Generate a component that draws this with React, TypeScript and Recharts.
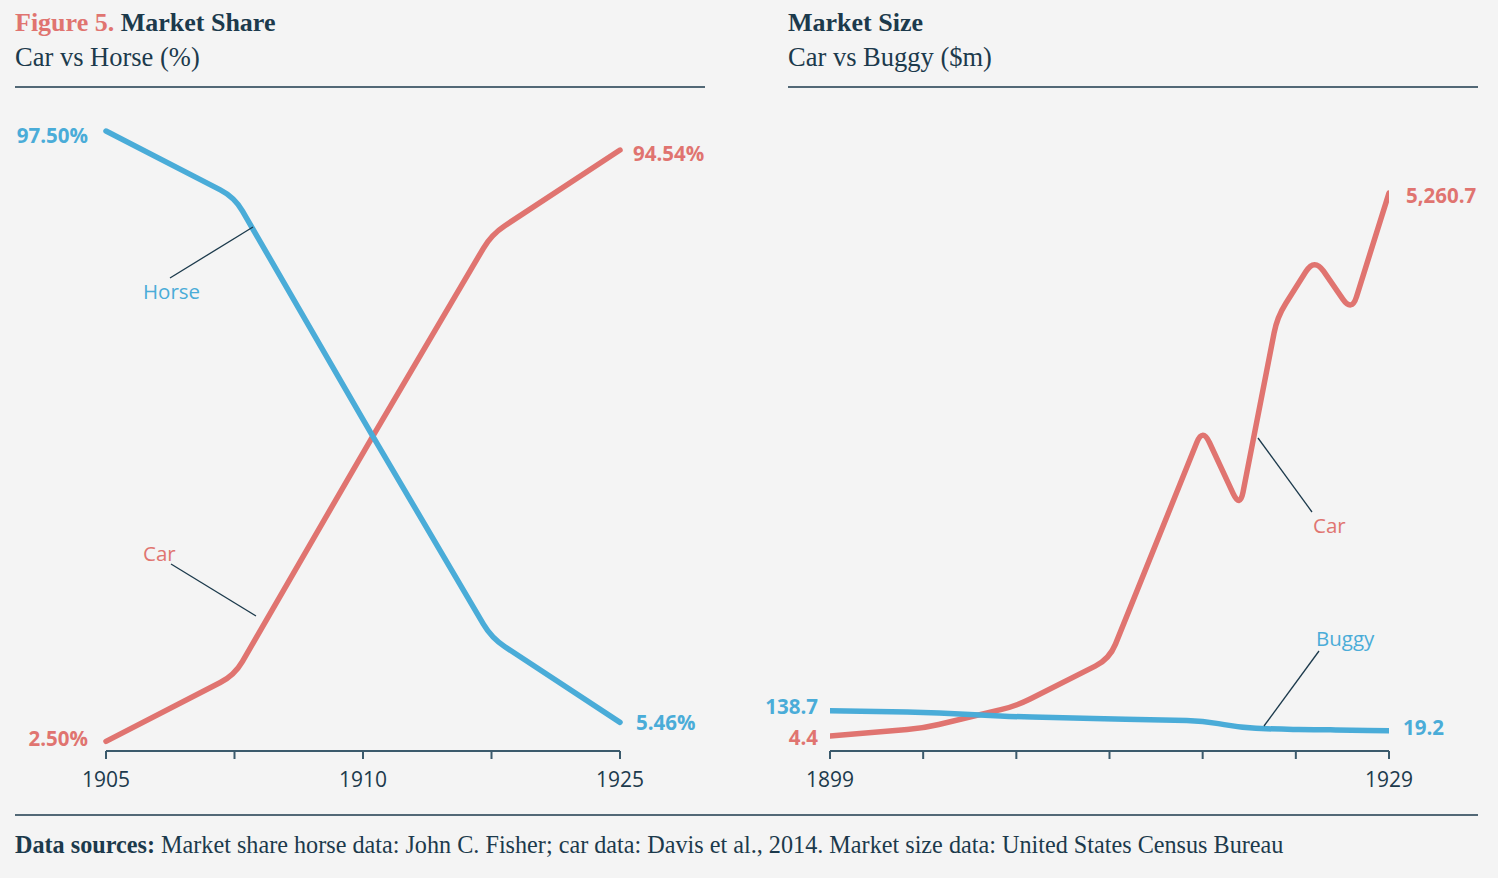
import { LabelList, Line, LineChart, XAxis, YAxis } from "recharts";

// market share, car vs horse (%)
const shareYears = ["1905", "", "1910", "", "1925"];
const horseShare = [97.5, 87.2, 52.6, 18.6, 5.46];
const carShare = [2.5, 12.8, 47.4, 81.4, 94.54];

// market size, car vs buggy ($m)
const sizeYears = [1899, 1904, 1909, 1914, 1919, 1921, 1923, 1925, 1927, 1929];
const carSize = [4.4, 79, 295, 750, 2986, 2211, 4060, 4632, 4109, 5260.7];
const buggySize = [138.7, 129, 103, 89, 79, 38, 28, 26, 22, 19.2];
const sizeTicks = [1899, 1904, 1909, 1914, 1919, 1924, 1929];
const sizeTickLabels = ["1899", "", "", "", "", "", "1929"];

const RED = "#e07470";
const BLUE = "#4aacd8";
const NAVY = "#1c3a4c";
const AXIS = "#3b5a6c";
const BG = "#f4f4f4";
const SANS = "'Open Sans', sans-serif";
const SERIF = "'Liberation Serif', serif";

const shareData = shareYears.map((year, i) => ({
  year,
  horse: horseShare[i],
  car: carShare[i],
}));

const sizeData = sizeYears.map((year, i) => ({
  year,
  car: carSize[i],
  buggy: buggySize[i],
}));

// straight segments with rounded corners, used as a d3-style curve factory
function roundedCurve(radius: number) {
  return (context: any) => {
    let pts: [number, number][] = [];
    return {
      areaStart() {},
      areaEnd() {},
      lineStart() {
        pts = [];
      },
      point(x: number, y: number) {
        pts.push([+x, +y]);
      },
      lineEnd() {
        if (!pts.length) return;
        context.moveTo(pts[0][0], pts[0][1]);
        for (let i = 1; i < pts.length - 1; i++) {
          const [x0, y0] = pts[i - 1];
          const [x1, y1] = pts[i];
          const [x2, y2] = pts[i + 1];
          const d1 = Math.hypot(x1 - x0, y1 - y0);
          const d2 = Math.hypot(x2 - x1, y2 - y1);
          const r = Math.min(radius, d1 / 2, d2 / 2);
          if (!r) {
            context.lineTo(x1, y1);
            continue;
          }
          context.lineTo(x1 + ((x0 - x1) * r) / d1, y1 + ((y0 - y1) * r) / d1);
          context.quadraticCurveTo(x1, y1, x1 + ((x2 - x1) * r) / d2, y1 + ((y2 - y1) * r) / d2);
        }
        const last = pts[pts.length - 1];
        context.lineTo(last[0], last[1]);
      },
    };
  };
}

const curve = roundedCurve(16) as any;

interface EndCfg {
  dx: number;
  dy: number;
  anchor: "start" | "end";
}

function endLabel(
  count: number,
  color: string,
  fmt: (v: number) => string,
  first: EndCfg,
  last: EndCfg
) {
  return (p: any) => {
    const { x, y, index, value } = p;
    if (index !== 0 && index !== count - 1) return null;
    const cfg = index === 0 ? first : last;
    return (
      <text
        x={x + cfg.dx}
        y={y + cfg.dy}
        textAnchor={cfg.anchor}
        dominantBaseline="central"
        fill={color}
        fontFamily={SANS}
        fontWeight={700}
        fontSize={20.5}
      >
        {fmt(Number(value))}
      </text>
    );
  };
}

const pct = (v: number) => `${v.toFixed(2)}%`;
const money = (v: number) =>
  v.toLocaleString("en-US", { minimumFractionDigits: 1, maximumFractionDigits: 1 });

const tickStyle = { fill: NAVY, fontSize: 21, fontFamily: SANS, fontWeight: 500 };

function ShareChart() {
  return (
    <LineChart
      width={760}
      height={878}
      data={shareData}
      margin={{ top: 115, right: 140, bottom: 87, left: 106 }}
    >
      <XAxis
        dataKey="year"
        height={40}
        interval={0}
        tickSize={8}
        tickMargin={13}
        axisLine={{ stroke: AXIS, strokeWidth: 2 }}
        tickLine={{ stroke: AXIS, strokeWidth: 2 }}
        tick={tickStyle}
      />
      <YAxis hide domain={[1, 100]} allowDataOverflow />
      <Line
        type={curve}
        dataKey="car"
        stroke={RED}
        strokeWidth={5.5}
        strokeLinecap="round"
        dot={false}
        isAnimationActive={false}
      >
        <LabelList
          dataKey="car"
          content={endLabel(
            carShare.length,
            RED,
            pct,
            { dx: -18, dy: -3, anchor: "end" },
            { dx: 13, dy: 3, anchor: "start" }
          )}
        />
      </Line>
      <Line
        type={curve}
        dataKey="horse"
        stroke={BLUE}
        strokeWidth={5.5}
        strokeLinecap="round"
        dot={false}
        isAnimationActive={false}
      >
        <LabelList
          dataKey="horse"
          content={endLabel(
            horseShare.length,
            BLUE,
            pct,
            { dx: -18, dy: 4, anchor: "end" },
            { dx: 16, dy: 0, anchor: "start" }
          )}
        />
      </Line>
    </LineChart>
  );
}

function SizeChart() {
  return (
    <LineChart
      width={758}
      height={878}
      data={sizeData}
      margin={{ top: 115, right: 109, bottom: 87, left: 90 }}
    >
      <XAxis
        dataKey="year"
        type="number"
        domain={[1899, 1929]}
        allowDataOverflow
        ticks={sizeTicks}
        interval={0}
        tickFormatter={(v: number) => sizeTickLabels[sizeTicks.indexOf(v)] ?? ""}
        height={40}
        tickSize={8}
        tickMargin={13}
        axisLine={{ stroke: AXIS, strokeWidth: 2 }}
        tickLine={{ stroke: AXIS, strokeWidth: 2 }}
        tick={tickStyle}
      />
      <YAxis yAxisId="car" hide domain={[-141, 6016]} allowDataOverflow />
      <YAxis yAxisId="buggy" hide domain={[-102, 3697]} allowDataOverflow />
      <Line
        yAxisId="car"
        type={curve}
        dataKey="car"
        stroke={RED}
        strokeWidth={5.5}
        strokeLinecap="round"
        dot={false}
        isAnimationActive={false}
      >
        <LabelList
          dataKey="car"
          content={endLabel(
            carSize.length,
            RED,
            money,
            { dx: -12, dy: 1, anchor: "end" },
            { dx: 17, dy: 2, anchor: "start" }
          )}
        />
      </Line>
      <Line
        yAxisId="buggy"
        type={curve}
        dataKey="buggy"
        stroke={BLUE}
        strokeWidth={5.5}
        strokeLinecap="round"
        dot={false}
        isAnimationActive={false}
      >
        <LabelList
          dataKey="buggy"
          content={endLabel(
            buggySize.length,
            BLUE,
            money,
            { dx: -12, dy: -5, anchor: "end" },
            { dx: 14, dy: -4, anchor: "start" }
          )}
        />
      </Line>
    </LineChart>
  );
}

function Annotations() {
  return (
    <svg
      width={1498}
      height={878}
      style={{ position: "absolute", left: 0, top: 0, pointerEvents: "none" }}
    >
      {/* titles */}
      <text x={15} y={31} fontFamily={SERIF} fontSize={26} fontWeight={700} fill={NAVY}>
        <tspan fill={RED}>Figure 5. </tspan>
        Market Share
      </text>
      <text x={15} y={66} fontFamily={SERIF} fontSize={26.5} fill={NAVY}>
        Car vs Horse (%)
      </text>
      <text x={788} y={31} fontFamily={SERIF} fontSize={26} fontWeight={700} fill={NAVY}>
        Market Size
      </text>
      <text x={788} y={66} fontFamily={SERIF} fontSize={26.5} fill={NAVY}>
        Car vs Buggy ($m)
      </text>
      <line x1={15} x2={705} y1={87} y2={87} stroke={NAVY} strokeWidth={1.5} />
      <line x1={788} x2={1478} y1={87} y2={87} stroke={NAVY} strokeWidth={1.5} />

      {/* series names */}
      <line x1={170} y1={278} x2={253} y2={227} stroke={NAVY} strokeWidth={1.3} />
      <text x={143} y={291} dominantBaseline="central" fontFamily={SANS} fontSize={20.5} fill={BLUE}>
        Horse
      </text>
      <line x1={171} y1={564} x2={256} y2={616} stroke={NAVY} strokeWidth={1.3} />
      <text x={143} y={553} dominantBaseline="central" fontFamily={SANS} fontSize={20.5} fill={RED}>
        Car
      </text>
      <line x1={1258} y1={438} x2={1312} y2={512} stroke={NAVY} strokeWidth={1.3} />
      <text x={1313} y={525} dominantBaseline="central" fontFamily={SANS} fontSize={20.5} fill={RED}>
        Car
      </text>
      <line x1={1264} y1={726} x2={1319} y2={651} stroke={NAVY} strokeWidth={1.3} />
      <text x={1316} y={638} dominantBaseline="central" fontFamily={SANS} fontSize={20.5} fill={BLUE}>
        Buggy
      </text>

      {/* footer */}
      <line x1={15} x2={1478} y1={815} y2={815} stroke={NAVY} strokeWidth={1.5} />
      <text x={15} y={853} fontFamily={SERIF} fontSize={24.2} fill={NAVY}>
        <tspan fontWeight={700}>Data sources: </tspan>
        Market share horse data: John C. Fisher; car data: Davis et al., 2014. Market size data:
        United States Census Bureau
      </text>
    </svg>
  );
}

export default function App() {
  return (
    <div
      style={{
        position: "absolute",
        left: 0,
        top: 0,
        width: 1498,
        height: 878,
        background: BG,
        overflow: "hidden",
      }}
    >
      <div style={{ position: "absolute", left: 0, top: 0 }}>
        <ShareChart />
      </div>
      <div style={{ position: "absolute", left: 740, top: 0 }}>
        <SizeChart />
      </div>
      <Annotations />
    </div>
  );
}
